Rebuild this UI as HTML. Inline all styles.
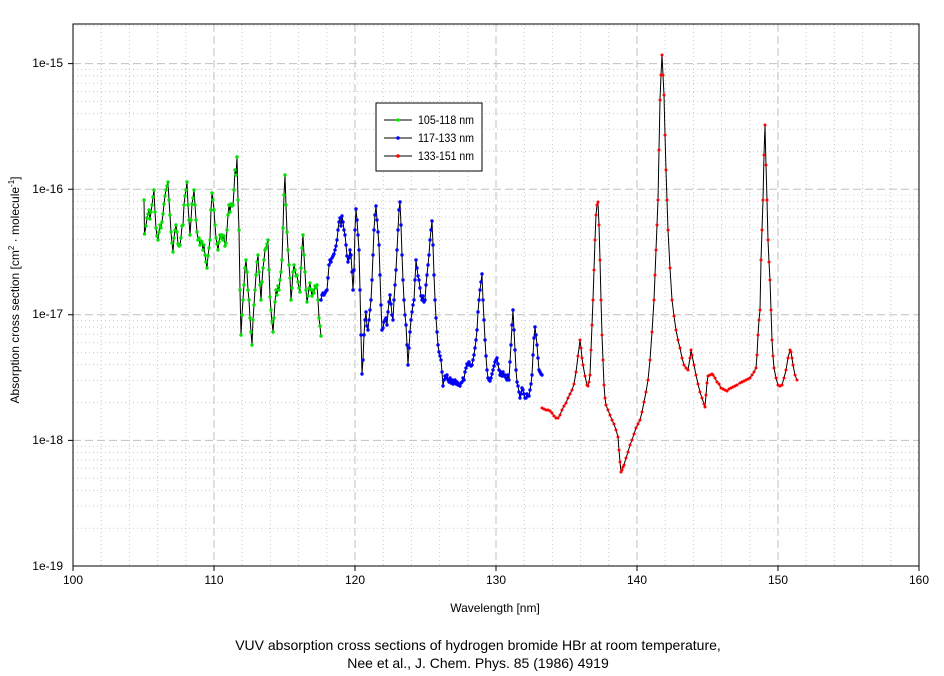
<!DOCTYPE html><html><head><meta charset="utf-8"><style>body{margin:0;background:#fff}svg{display:block;font-family:"Liberation Sans",sans-serif}</style></head><body>
<svg width="944" height="676" xmlns="http://www.w3.org/2000/svg">
<defs>
<marker id="mg" markerUnits="userSpaceOnUse" markerWidth="4" markerHeight="4" refX="2" refY="2"><circle cx="2" cy="2" r="1.7" fill="#00e000"/></marker>
<marker id="mb" markerUnits="userSpaceOnUse" markerWidth="4" markerHeight="4" refX="2" refY="2"><circle cx="2" cy="2" r="1.7" fill="#0000ff"/></marker>
<marker id="mr" markerUnits="userSpaceOnUse" markerWidth="4" markerHeight="4" refX="2" refY="2"><circle cx="2" cy="2" r="1.5" fill="#ff0000"/></marker>
</defs>
<path fill="none" stroke="#c8c8c8" stroke-dasharray="1,3" d="M101.2 24V566M129.4 24V566M157.6 24V566M185.8 24V566M242.2 24V566M270.4 24V566M298.6 24V566M326.8 24V566M383.2 24V566M411.4 24V566M439.6 24V566M467.8 24V566M524.2 24V566M552.4 24V566M580.6 24V566M608.8 24V566M665.2 24V566M693.4 24V566M721.6 24V566M749.8 24V566M806.2 24V566M834.4 24V566M862.6 24V566M890.8 24V566
M73 528.2H919M73 506.1H919M73 490.4H919M73 478.2H919M73 468.3H919M73 459.9H919M73 452.6H919M73 446.2H919
M73 402.6H919M73 380.5H919M73 364.8H919M73 352.6H919M73 342.7H919M73 334.3H919M73 327H919M73 320.6H919
M73 277H919M73 254.9H919M73 239.2H919M73 227H919M73 217.1H919M73 208.7H919M73 201.4H919M73 195H919
M73 151.4H919M73 129.3H919M73 113.6H919M73 101.4H919M73 91.5H919M73 83.1H919M73 75.8H919M73 69.4H919M73 25.8H919"/>
<path fill="none" stroke="#c0c0c0" stroke-dasharray="8,4" d="M214 24V566M355 24V566M496 24V566M637 24V566M778 24V566M73 440.4H919M73 314.8H919M73 189.2H919M73 63.6H919"/>
<rect x="73" y="24" width="846" height="542" fill="none" stroke="#000"/>
<path stroke="#000" d="M68 440.4H73M68 314.8H73M68 189.2H73M68 63.6H73M73 566V571M214 566V571M355 566V571M496 566V571M637 566V571M778 566V571M919 566V571"/>
<g fill="none" stroke="#000" stroke-width="1">
<polyline marker-start="url(#mg)" marker-mid="url(#mg)" marker-end="url(#mg)" points="144,200 144.5,234 146,226 147,218 148,214 149,210 150,219 151,212 152,205 153,197 154,190 155,212 156,228 157,236 158,240 159,232 160,225 161,228 162,222 163,214 164,204 165,196 166,190 167,186 168,182 169,200 170,215 171,232 172,243 173,252 174,238 175,230 176,225 177,232 178,244 179,246 180,245 181,238 182,226 183,225 184,205 185,196 186,190 187,182 188,205 189,220 190,235 191,220 192,204 193,198 194,190 195,205 196,220 197,232 198,240 199,238 200,245 201,241 202,242 203,250 204,245 205,255 206,262 207,268 208,256 209,248 210,240 211,210 212,193 213,200 214,210 215,225 216,238 217,244 218,250 219,242 220,235 221,238 222,235 223,240 224,236 225,246 226,243 227,230 228,215 229,205 230,212 231,204 232,206 233,205 234,190 235,170 236,175 237,157 238,200 239,230 240,290 241,335 242,315 243,300 244,285 245,268 246,260 247,272 248,290 249,300 250,318 251,332 252,345 253,320 254,305 255,290 256,275 257,262 258,255 259,272 260,285 261,300 262,282 263,268 264,260 265,250 266,248 267,244 268,240 269,270 270,297 271,310 272,322 273,332 274,318 275,302 276,290 277,295 278,286 279,290 280,280 281,272 282,260 283,228 284,195 285,175 286,205 287,232 288,250 289,265 290,278 291,300 292,288 293,272 294,265 295,270 296,276 297,275 298,282 299,288 300,292 301,268 302,248 303,235 304,255 305,272 306,290 307,302 308,296 309,288 310,283 311,290 312,296 313,290 314,293 315,286 316,288 317,285 318,300 319,318 320,326 321,336"/>
<polyline marker-start="url(#mb)" marker-mid="url(#mb)" marker-end="url(#mb)" points="321,300 322,295 323,293 324,295 325,293 326,291 327,290 328,278 329,265 330,260 331,262 332,258 333,256 334,254 335,250 336,246 337,240 338,230 339,222 340,218 341,226 342,216 343,222 344,230 345,235 346,245 347,256 348,262 349,258 350,250 351,255 352,272 353,290 354,270 355,230 356,209 357,220 358,235 359,250 360,290 361,335 362,374 363,360 364,335 365,320 366,312 367,326 368,330 369,320 370,310 371,300 372,280 373,255 374,230 375,215 376,206 377,220 378,232 379,245 380,275 381,305 382,330 383,328 384,322 385,320 386,318 387,325 388,312 389,302 390,295 391,304 392,315 393,320 394,300 395,285 396,270 397,250 398,230 399,210 400,202 401,225 402,255 403,280 404,300 405,315 406,325 407,345 408,365 409,348 410,332 411,320 412,312 413,305 414,300 415,280 416,260 417,268 418,276 419,280 420,288 421,296 422,300 423,296 424,302 425,300 426,285 427,275 428,265 429,255 430,240 431,230 432,221 433,245 434,275 435,300 436,318 437,332 438,345 439,352 440,356 441,360 442,372 443,386 444,380 445,376 446,378 447,375 448,380 449,382 450,378 451,383 452,380 453,384 454,382 455,380 456,384 457,382 458,385 459,384 460,386 461,383 462,382 463,378 464,380 465,372 466,368 467,364 468,365 469,362 470,365 471,366 472,365 473,360 474,355 475,348 476,340 477,330 478,312 479,300 480,290 481,282 482,274 483,300 484,320 485,340 486,356 487,370 488,378 489,380 490,381 491,378 492,374 493,370 494,366 495,362 496,360 497,358 498,364 499,370 500,375 501,372 502,376 503,372 504,376 505,375 506,378 507,380 508,375 509,380 510,362 511,345 512,325 513,310 514,330 515,350 516,370 517,382 518,386 519,392 520,398 521,394 522,388 523,390 524,394 525,398 526,398 527,394 528,396 529,396 530,390 531,384 532,375 533,355 534,338 535,327 536,335 537,345 538,358 539,370 540,372 541,374 542,375"/>
<polyline marker-start="url(#mr)" marker-mid="url(#mr)" marker-end="url(#mr)" points="542,408 544,409 546,410 548,410 550,411 552,413 554,416 556,418 558,418 560,415 562,410 564,406 566,403 568,398 570,394 572,390 574,384 576,372 578,356 580,340 581,348 582,358 583,365 585,376 587,385 588,386 589,382 590,375 591,350 592,325 593,300 594,270 595,240 596,215 597,205 598,202 599,225 600,260 601,300 602,335 603,360 604,385 605,398 606,405 608,410 610,415 612,420 614,424 616,430 618,437 619,450 620,462 621,472 622,470 623,467 624,465 626,458 628,452 630,445 632,440 634,434 636,428 638,424 640,420 642,412 644,402 646,392 648,380 650,360 652,332 654,300 655,275 656,250 657,225 658,200 659,150 660,100 661,75 662,55 663,75 664,95 665,135 666,170 667,200 668,230 670,268 672,300 674,316 676,330 678,340 680,348 682,358 684,365 686,368 688,370 690,358 691,350 692,355 694,365 696,375 698,384 700,392 702,398 704,404 705,407 706,395 707,383 708,376 710,375 712,374 713,375 715,378 717,382 719,384 721,388 723,389 725,390 727,391 729,389 731,388 733,387 735,386 737,385 740,383 742,382 744,381 746,380 748,379 750,378 752,375 754,372 756,368 757,355 758,335 759,320 760,310 761,260 762,230 763,200 764,155 765,125 766,165 767,200 768,240 769,262 770,280 771,310 772,340 773,356 774,368 776,378 778,385 780,386 782,385 784,378 786,370 788,358 790,350 791,352 792,358 793,365 795,375 797,380"/>
</g>
<g font-size="12" fill="#000" text-anchor="end">
<text x="63" y="67">1e-15</text><text x="63" y="193">1e-16</text><text x="63" y="318">1e-17</text><text x="63" y="444">1e-18</text><text x="63" y="570">1e-19</text></g>
<g font-size="12" fill="#000" text-anchor="middle">
<text x="73" y="584">100</text><text x="214" y="584">110</text><text x="355" y="584">120</text><text x="496" y="584">130</text><text x="637" y="584">140</text><text x="778" y="584">150</text><text x="919" y="584">160</text>
<text x="495" y="612">Wavelength [nm]</text></g>
<text transform="translate(19,290) rotate(-90)" font-size="12" text-anchor="middle">Absorption cross section [cm<tspan font-size="8" dy="-5">2</tspan><tspan dy="5"> · molecule</tspan><tspan font-size="8" dy="-5">-1</tspan><tspan dy="5">]</tspan></text>
<g font-size="14" text-anchor="middle"><text x="478" y="650">VUV absorption cross sections of hydrogen bromide HBr at room temperature,</text><text x="478" y="668">Nee et al., J. Chem. Phys. 85 (1986) 4919</text></g>
<rect x="376" y="103" width="106" height="68" fill="#fff" stroke="#000"/>
<g font-size="12"><line x1="384" x2="412" y1="120" y2="120" stroke="#000"/><circle cx="398" cy="120" r="1.8" fill="#0e0"/><text x="418" y="124" textLength="56" lengthAdjust="spacingAndGlyphs">105-118 nm</text>
<line x1="384" x2="412" y1="138" y2="138" stroke="#000"/><circle cx="398" cy="138" r="1.8" fill="#00f"/><text x="418" y="142" textLength="56" lengthAdjust="spacingAndGlyphs">117-133 nm</text>
<line x1="384" x2="412" y1="156" y2="156" stroke="#000"/><circle cx="398" cy="156" r="1.8" fill="#f00"/><text x="418" y="160" textLength="56" lengthAdjust="spacingAndGlyphs">133-151 nm</text></g>
</svg></body></html>
